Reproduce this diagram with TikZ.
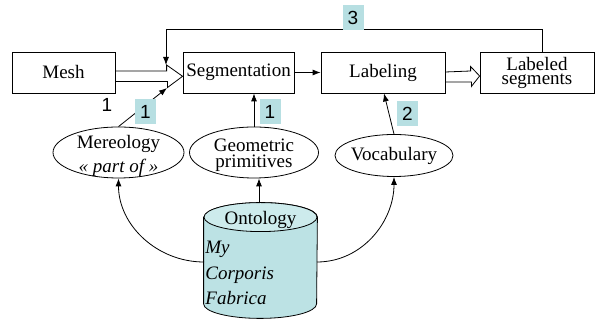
\documentclass[tikz,border=0pt]{standalone}
\usepackage{fontspec}
\setmainfont{Liberation Serif}
\newfontfamily\numfont{Liberation Sans}
\usetikzlibrary{shapes.geometric,arrows.meta,calc}
\definecolor{tagcyan}{HTML}{B7DFE2}
\definecolor{dbbody}{HTML}{BCE2E4}
\definecolor{dbtop}{HTML}{CDEBEC}

\begin{document}
\begin{tikzpicture}[x=1pt,y=1pt,line width=0.8pt,>={Latex[length=8pt,width=6pt]},
  stage/.style={draw,shape=rectangle,minimum height=41pt,inner sep=0pt,align=center,font=\fontsize{19}{14}\selectfont},
  source/.style={draw,shape=ellipse,inner sep=0pt},
  srctext/.style={align=center,inner sep=0pt},
  tag/.style={fill=tagcyan,minimum width=21pt,minimum height=25pt,inner sep=0pt,font=\numfont\fontsize{19}{19}\selectfont}]
\useasboundingbox (0,0) rectangle (595,320);

\node (mesh) [stage,minimum width=103pt] at (63.5,247.5) {Mesh};
\node (seg) [stage,minimum width=111pt] at (238.5,247.5) {Segmentation};
\node (lab) [stage,minimum width=124pt] at (383,247.5) {Labeling};
\node (lseg) [stage,minimum width=114pt] at (537,247.5) {Labeled\\segments};

\node (mereo) [source,minimum width=131pt,minimum height=51pt] at (118.5,167.5) {};
\node (mereotext) [srctext,font=\fontsize{19}{24}\selectfont,yshift=-3pt] at (mereo) {Mereology\\\itshape « part of »};
\node (geom) [source,minimum width=129pt,minimum height=51pt] at (254,167.5) {};
\node (geomtext) [srctext,font=\fontsize{19}{16}\selectfont,yshift=-2.5pt] at (geom) {Geometric\\primitives};
\node (vocab) [source,minimum width=118pt,minimum height=42pt] at (394,164.5) {};
\node (vocabtext) [srctext,font=\fontsize{19}{19}\selectfont] at (vocab) {Vocabulary};

% database cylinder
\node (onto) [minimum width=113pt,minimum height=115pt,inner sep=0pt] at (260.5,59.5) {};
\draw[fill=dbbody] ($(onto.north west)+(0,-14.5)$) -- ($(onto.south west)+(0,14.5)$)
  arc[start angle=180,end angle=360,x radius=56.5,y radius=14.5]
  -- ($(onto.north east)+(0,-14.5)$) arc[start angle=0,end angle=180,x radius=56.5,y radius=14.5] -- cycle;
\draw[fill=dbtop] ($(onto.north)+(0,-14.5)$) ellipse[x radius=56.5,y radius=14.5];
\node (ontotitle) [anchor=base,inner sep=0pt,font=\fontsize{19}{19}\selectfont] at (260.5,95) {Ontology};
\node (ontomy) [anchor=base west,inner sep=0pt,font=\fontsize{19}{19}\selectfont\itshape] at (205,66.5) {My};
\node (ontocorp) [anchor=base west,inner sep=0pt,font=\fontsize{19}{19}\selectfont\itshape] at (205,40) {Corporis};
\node (ontofab) [anchor=base west,inner sep=0pt,font=\fontsize{19}{19}\selectfont\itshape] at (205,15) {Fabrica};

\coordinate (ontotop) at ($(onto.center)+(-1.5,57.5)$);
\coordinate (ontoleft) at ($(onto.center)+(-56.5,-1.5)$);
\coordinate (ontoright) at ($(onto.center)+(56.5,-1.5)$);
\coordinate (fbtip) at (166,255);
\coordinate (mtip) at (167,232);

% hollow block arrows
\draw ([yshift=-3.8pt]seg.west) -- ++(-16,11.3) -- ++(0,-6) -- ([yshift=1.5pt]mesh.east) -- ([yshift=-9.1pt]mesh.east) -- ++(52,0) -- ++(0,-6) -- cycle;
\draw ([yshift=-3.5pt]lseg.west) -- ++(-9,9.5) -- ++(0,-4.5) -- ([yshift=0.5pt]lab.east) -- ([yshift=-9.5pt]lab.east) -- ++(26,0) -- ++(0,-4.5) -- cycle;

\draw[->] (seg) -- (lab);
\draw[->] ([xshift=5pt]lseg.north) -- ++(0,22) -| (fbtip);
\draw[->] (mereo.north) -- (mtip);
\draw[->] (geom.north) -- (geom.north |- seg.south);
\draw[->] (vocab.north) -- ([xshift=1pt]lab.south);
\draw[->] (ontotop) -- (ontotop |- geom.south);
\draw[->] (ontoleft) to[out=180,in=-90] (mereo.south);
\draw[->] (ontoright) to[out=0,in=-90] (vocab.south);

\node (tag1a) [tag] at (145.5,208) {1};
\node (tag1b) [tag] at (270,208) {1};
\node (tag2) [tag] at (407.5,206.5) {2};
\node (tag3) [tag] at (353,302.5) {3};
\node (meshone) [inner sep=0pt,font=\numfont\fontsize{19}{19}\selectfont] at (107,215) {1};

\end{tikzpicture}
\end{document}
